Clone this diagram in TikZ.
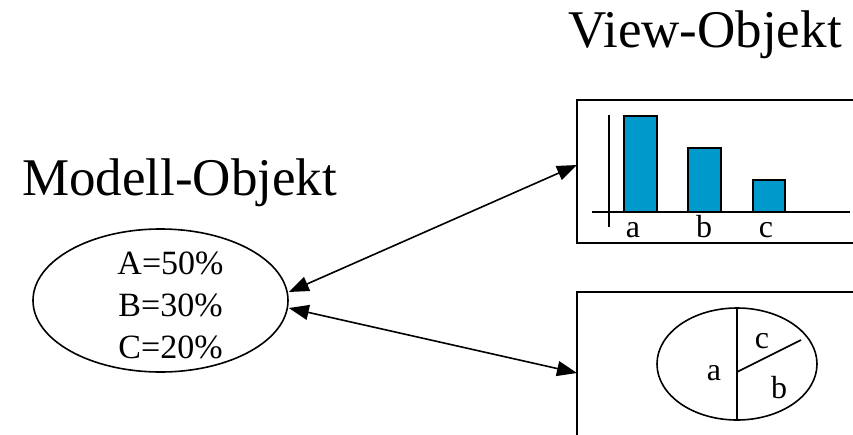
\documentclass[tikz,border=0pt]{standalone}
\usepackage{fontspec}
\setmainfont{Liberation Serif}
\usetikzlibrary{shapes.geometric,arrows.meta}
\definecolor{barblue}{HTML}{0099CC}
\tikzset{
  title/.style={inner sep=0pt,font=\fontsize{53}{60}\selectfont},
  lbl/.style={inner sep=0pt,font=\fontsize{32}{40}\selectfont},
  frame/.style={line width=1.7pt},
  bar/.style={draw,line width=1.6pt,fill=barblue},
  link/.style={line width=1.6pt,{Triangle[length=20pt,width=15pt]}-{Triangle[length=20pt,width=15pt]}}
}
\begin{document}
\begin{tikzpicture}[x=1pt,y=-1pt]
\useasboundingbox (0,0) rectangle (853,434);
% titles
\node[title,anchor=base west] (vtitle) at (568,47) {View-Objekt};
\node[title,anchor=base west] (mtitle) at (22,195) {Modell-Objekt};
% model
\node[draw,ellipse,line width=1.6pt,minimum width=255pt,minimum height=143pt,inner sep=0pt] (model) at (160.5,300.5) {};
\node[lbl,align=center,font=\fontsize{34}{42}\selectfont] (vals) at (170.5,305) {A=50\%\\B=30\%\\C=20\%};
% top view box (open to the right)
\draw[frame] (853,100) -- (577,100) -- (577,243) -- (853,243);
\coordinate (v1) at (577,165);
\draw[line width=1.6pt] (609,115) -- (609,227);
\draw[line width=1.6pt] (592,212) -- (850,212);
\draw[bar] (624,212) rectangle (657,116);
\draw[bar] (688,212) rectangle (721,148);
\draw[bar] (753,212) rectangle (785,180);
\node[lbl,anchor=base] (la) at (633,237) {a};
\node[lbl,anchor=base] (lb) at (704,237) {b};
\node[lbl,anchor=base] (lc) at (766,237) {c};
% bottom view box (open to the right and bottom)
\draw[frame] (853,292) -- (577,292) -- (577,440);
\coordinate (v2) at (577,373);
\node[draw,ellipse,line width=1.6pt,minimum width=160pt,minimum height=112pt,inner sep=0pt] (pie) at (737,364) {};
\draw[line width=1.6pt] (pie.north) -- (pie.south);
\coordinate (pc) at (737,372);
\draw[line width=1.6pt] (pc) -- (801,340);
\node[lbl] (pa) at (714,373) {a};
\node[lbl] (pcl) at (762,341) {c};
\node[lbl] (pb) at (779,388) {b};
% links
\draw[link] ([yshift=8.5pt]model.east) -- (v1);
\draw[link] ([yshift=-7.5pt]model.east) -- (v2);
\end{tikzpicture}
\end{document}
